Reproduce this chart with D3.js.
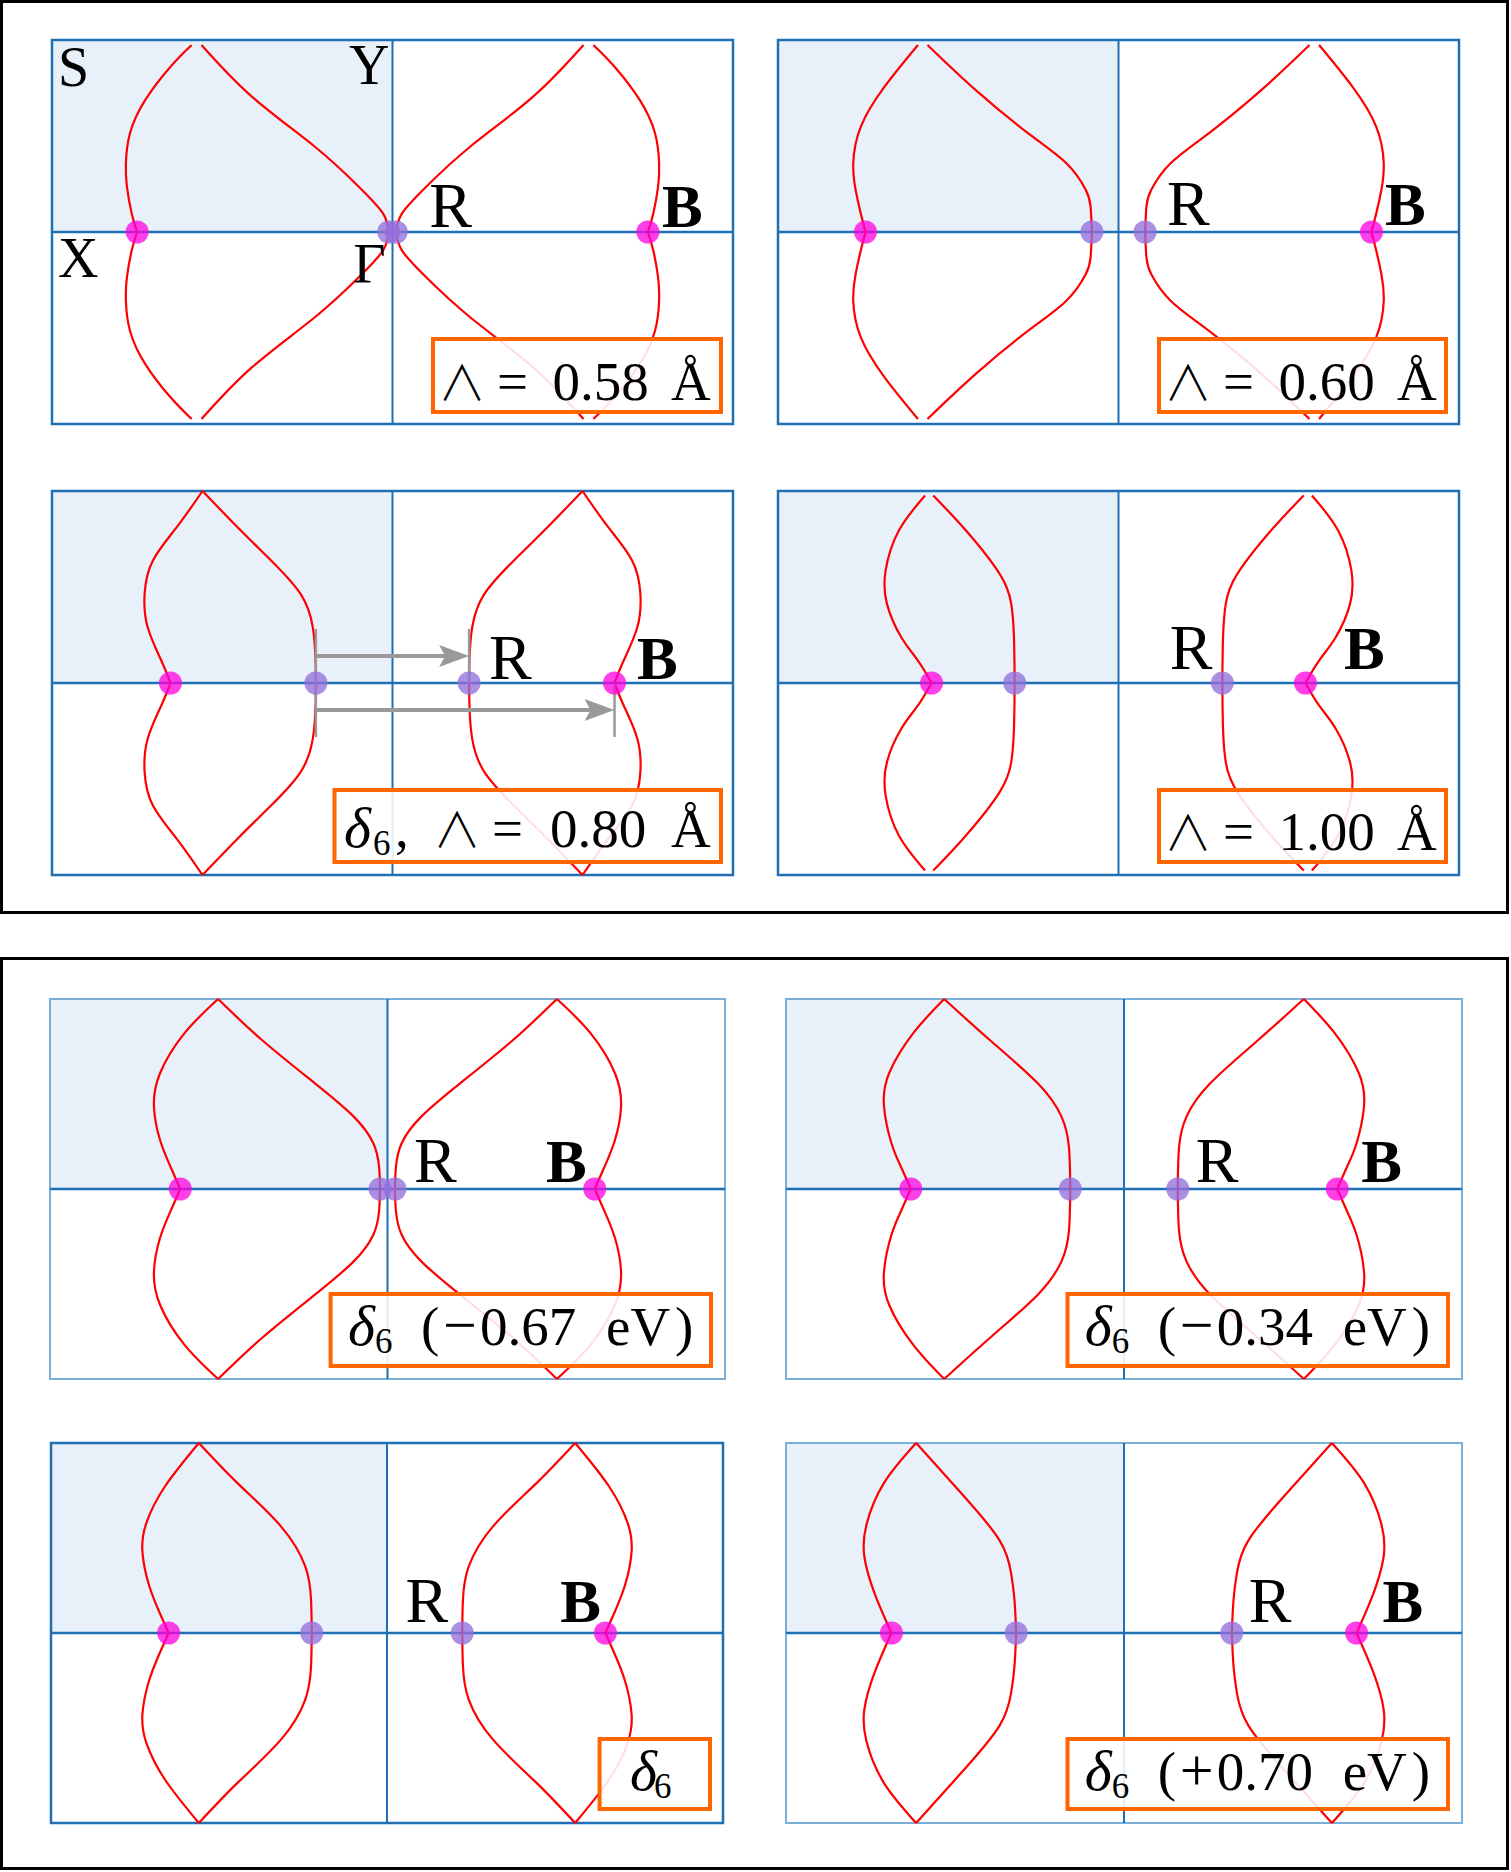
<!DOCTYPE html>
<html>
<head>
<meta charset="utf-8">
<script src="https://cdn.jsdelivr.net/npm/d3@7/dist/d3.min.js"></script>
<style>
  body { margin: 0; background: #fff; }
  svg { display: block; }
</style>
</head>
<body>
<script>
//--------------------------------- Data
// Top-left quarter of each contour, as (kx, ky): kx = -1 at X, 0 at Gamma; ky = 1 at Y, 0 at Gamma.
// "outer" ends on the magenta point, "inner" ends on the purple point.
var outer058 = [[-0.590,0.974],[-0.652,0.861],[-0.726,0.688],[-0.771,0.514],[-0.783,0.358],[-0.780,0.236],[-0.766,0.097],[-0.750,0]];
var inner058 = [[-0.561,0.974],[-0.413,0.705],[-0.228,0.444],[-0.099,0.236],[-0.028,0.097],[-0.011,0]];

var outer060 = [[-0.589,0.974],[-0.687,0.757],[-0.757,0.548],[-0.779,0.358],[-0.772,0.219],[-0.757,0.097],[-0.743,0]];
var inner060 = [[-0.561,0.974],[-0.420,0.740],[-0.265,0.514],[-0.153,0.358],[-0.096,0.219],[-0.082,0.132],[-0.078,0]];

var outer080 = [[-0.558,1],[-0.633,0.813],[-0.704,0.637],[-0.728,0.464],[-0.719,0.290],[-0.679,0.117],[-0.652,0]];
var inner080 = [[-0.558,1],[-0.455,0.811],[-0.356,0.637],[-0.270,0.464],[-0.234,0.290],[-0.226,0.117],[-0.225,0]];

var outer100 = [[-0.568,0.977],[-0.645,0.794],[-0.684,0.585],[-0.680,0.412],[-0.638,0.238],[-0.589,0.117],[-0.549,0]];
var inner100 = [[-0.544,0.977],[-0.448,0.794],[-0.349,0.568],[-0.315,0.412],[-0.307,0.238],[-0.305,0]];

var outerM067 = [[-0.502,1],[-0.602,0.819],[-0.674,0.609],[-0.692,0.433],[-0.674,0.258],[-0.643,0.117],[-0.614,0]];
var innerM067 = [[-0.502,1],[-0.372,0.784],[-0.215,0.556],[-0.100,0.381],[-0.042,0.241],[-0.025,0.117],[-0.022,0]];

var outerM034 = [[-0.532,1],[-0.624,0.819],[-0.695,0.609],[-0.710,0.433],[-0.688,0.241],[-0.660,0.117],[-0.631,0]];
var innerM034 = [[-0.532,1],[-0.397,0.784],[-0.255,0.556],[-0.185,0.381],[-0.163,0.223],[-0.159,0]];

var outerD6 = [[-0.560,1],[-0.661,0.771],[-0.716,0.580],[-0.728,0.430],[-0.708,0.250],[-0.676,0.104],[-0.650,0]];
var innerD6 = [[-0.560,1],[-0.445,0.789],[-0.315,0.560],[-0.243,0.349],[-0.226,0.174],[-0.224,0]];

var outerP070 = [[-0.615,1],[-0.710,0.790],[-0.762,0.570],[-0.768,0.400],[-0.738,0.209],[-0.688,0]];
var innerP070 = [[-0.615,1],[-0.482,0.737],[-0.369,0.490],[-0.334,0.315],[-0.324,0.174],[-0.319,0]];

var lambdaValues = ["0.58", "0.60", "0.80", "1.00"];
var shiftSigns   = ["\u2212", "\u2212", "", "+"];
var shiftValues  = ["0.67", "0.34", "", "0.70"];
var cornerLabels = ["S", "Y", "X", "\u0393"];

//--------------------------------- Layout
var _colBlue = "#1f6fb4",
    _colBlueLight = "#7aafd8",
    _colShade = "#e8f1f9",
    _colRed = "#ff0000",
    _colMag = "#ff00e0",
    _colPur = "#9370db",
    _colOrange = "#ff6600",
    _colGray = "#999999",
    _font = "'Liberation Serif', 'DejaVu Serif', serif";

// tag token layouts: [text, x offset from the start of the tag text, kind]
var tagLambda      = [["\u2227", -5.6, "wedge"], ["=", 53.5], ["{v}", 109], ["\u00c5", 227.5]];
var tagDeltaLambda = [["\u03b4", 0, "it"], ["6", 29, "sub"], [",", 51], ["\u2227", 89.1, "wedge"],
                      ["=", 148], ["{v}", 206], ["\u00c5", 327]];
var tagDeltaShift  = [["\u03b4", 0, "it"], ["6", 27, "sub"], ["(", 73], ["{s}", 95, "op"], ["{v}", 132],
                      ["eV", 258], [")", 327]];
var tagDelta       = [["\u03b4", 0, "it"], ["6", 24, "sub"]];

var panels = [
  { outer: outer058, inner: inner058, box: [52, 733, 40, 424], light: false,
    rL: { s: 1, dx: 33, dy: -5 }, bL: { s: 1, dx: 14, dy: -5 },
    tag: [433, 339, 288, 73, 443.5, 400], tokens: tagLambda, v: lambdaValues[0] },
  { outer: outer060, inner: inner060, box: [778, 1459, 40, 424], light: false,
    rL: { s: 1, dx: 22, dy: -7 }, bL: { s: 1, dx: 13.5, dy: -7 },
    tag: [1159, 339, 287, 73, 1169.5, 400], tokens: tagLambda, v: lambdaValues[1] },
  { outer: outer080, inner: inner080, box: [52, 733, 491, 875], light: false,
    rL: { s: 1, dx: 20, dy: -4.5 }, bL: { s: 1, dx: 22.5, dy: -4.5 },
    tag: [334.5, 790, 386.5, 72, 344, 847], tokens: tagDeltaLambda, v: lambdaValues[2], arrows: true },
  { outer: outer100, inner: inner100, box: [778, 1459, 491, 875], light: false,
    rL: { s: -1, dx: -10, dy: -14.5 }, bL: { s: 1, dx: 38.6, dy: -14.5 },
    tag: [1159, 790, 287, 72, 1169.5, 850], tokens: tagLambda, v: lambdaValues[3] },
  { outer: outerM067, inner: innerM067, box: [50, 725, 999, 1379], light: true,
    rL: { s: 1, dx: 19, dy: -7 }, bL: { s: -1, dx: -8, dy: -7 },
    tag: [330.6, 1294, 380.4, 72, 348, 1345], tokens: tagDeltaShift, v: shiftValues[0], sg: shiftSigns[0] },
  { outer: outerM034, inner: innerM034, box: [786, 1462, 999, 1379], light: true,
    rL: { s: 1, dx: 18, dy: -7 }, bL: { s: 1, dx: 24, dy: -7 },
    tag: [1067.5, 1294, 380.5, 72, 1084.7, 1345], tokens: tagDeltaShift, v: shiftValues[1], sg: shiftSigns[1] },
  { outer: outerD6, inner: innerD6, box: [51, 723, 1443, 1823], light: false,
    rL: { s: -1, dx: -14, dy: -11 }, bL: { s: -1, dx: -4.5, dy: -11 },
    tag: [599.6, 1739, 110.4, 70, 630, 1790], tokens: tagDelta },
  { outer: outerP070, inner: innerP070, box: [786, 1462, 1443, 1823], light: true,
    rL: { s: 1, dx: 17, dy: -11 }, bL: { s: 1, dx: 26, dy: -11 },
    tag: [1067.5, 1739, 380.5, 70, 1084.7, 1790], tokens: tagDeltaShift, v: shiftValues[3], sg: shiftSigns[3] }
];

var svg = d3.select("body").append("svg")
    .attr("width", 1511).attr("height", 1872);

//----- outer frames
[[1.5, 1.5, 1506, 911], [1.5, 958.5, 1506, 910]].forEach(function (f) {
  svg.append("rect").attr("x", f[0]).attr("y", f[1]).attr("width", f[2]).attr("height", f[3])
     .attr("fill", "none").attr("stroke", "#000").attr("stroke-width", 3);
});

var quarters = [[1, 1], [1, -1], [-1, 1], [-1, -1]];

panels.forEach(function (p, i) {
  var x = d3.scaleLinear().domain([-1, 1]).range([p.box[0], p.box[1]]),
      y = d3.scaleLinear().domain([-1, 1]).range([p.box[3], p.box[2]]),
      g = svg.append("g").attr("class", "panel-" + i);

  // shaded irreducible quadrant
  g.append("rect").attr("x", x(-1)).attr("y", y(1))
   .attr("width", x(0) - x(-1)).attr("height", y(0) - y(1))
   .attr("fill", _colShade);

  // zone frame and axes
  g.append("rect").attr("x", x(-1)).attr("y", y(1))
   .attr("width", x(1) - x(-1)).attr("height", y(-1) - y(1))
   .attr("fill", "none")
   .attr("stroke", p.light ? _colBlueLight : _colBlue)
   .attr("stroke-width", p.light ? 2 : 2.5);
  g.append("line").attr("x1", x(0)).attr("x2", x(0)).attr("y1", y(1)).attr("y2", y(-1))
   .attr("stroke", _colBlue).attr("stroke-width", 2);
  g.append("line").attr("x1", x(-1)).attr("x2", x(1)).attr("y1", y(0)).attr("y2", y(0))
   .attr("stroke", _colBlue).attr("stroke-width", 2.5);

  // contours: each quarter mirrored through the axes
  var line = d3.line()
      .x(function (d) { return x(d[0]); })
      .y(function (d) { return y(d[1]); })
      .curve(d3.curveNatural);
  [p.outer, p.inner].forEach(function (q) {
    quarters.forEach(function (s) {
      g.append("path")
       .attr("d", line(q.map(function (d) { return [d[0] * s[0], d[1] * s[1]]; })))
       .attr("fill", "none").attr("stroke", _colRed).attr("stroke-width", 2.2);
    });
  });

  var kMag = p.outer[p.outer.length - 1][0],
      kPur = p.inner[p.inner.length - 1][0];

  // arrows (third panel)
  if (p.arrows) {
    var cy = y(0), x0 = x(kPur), xR = x(-kPur), xB = x(-kMag);
    [[x0, cy - 54, cy + 54], [xR, cy - 54, cy], [xB, cy, cy + 54]].forEach(function (t) {
      g.append("line").attr("x1", t[0]).attr("x2", t[0]).attr("y1", t[1]).attr("y2", t[2])
       .attr("stroke", _colGray).attr("stroke-width", 2.5);
    });
    [[xR, cy - 27], [xB, cy + 27]].forEach(function (a) {
      g.append("line").attr("x1", x0).attr("x2", a[0] - 22).attr("y1", a[1]).attr("y2", a[1])
       .attr("stroke", _colGray).attr("stroke-width", 4);
      g.append("path")
       .attr("d", "M" + a[0] + "," + a[1] + "L" + (a[0] - 30) + "," + (a[1] - 11) +
                  "L" + (a[0] - 24) + "," + a[1] + "L" + (a[0] - 30) + "," + (a[1] + 11) + "Z")
       .attr("fill", _colGray);
    });
  }

  // crossing points on the Gamma line
  [[kMag, _colMag, 0.75], [-kMag, _colMag, 0.75], [kPur, _colPur, 0.78], [-kPur, _colPur, 0.78]]
    .forEach(function (d) {
      g.append("circle").attr("cx", x(d[0])).attr("cy", y(0)).attr("r", 11.5)
       .attr("fill", d[1]).attr("fill-opacity", d[2]);
    });

  // R and B labels
  [[p.rL, -kPur, "R", "normal", 64], [p.bL, -kMag, "B", "bold", 61]].forEach(function (l) {
    g.append("text").attr("x", x(l[1]) + l[0].dx).attr("y", y(0) + l[0].dy)
     .attr("text-anchor", l[0].s > 0 ? "start" : "end")
     .attr("font-family", _font).attr("font-size", l[4]).attr("font-weight", l[3])
     .text(l[2]);
  });

  // high-symmetry points (first panel only)
  if (i === 0) {
    [[x(-1) + 6, y(1) + 46, "start", 0], [x(0) - 3, y(1) + 44, "end", 1],
     [x(-1) + 6, y(0) + 45, "start", 2], [x(0) - 7, y(0) + 51, "end", 3]].forEach(function (c) {
      g.append("text").attr("x", c[0]).attr("y", c[1]).attr("text-anchor", c[2])
       .attr("font-family", _font).attr("font-size", 56).text(cornerLabels[c[3]]);
    });
  }

  // orange tag
  var t = p.tag;
  g.append("rect").attr("x", t[0]).attr("y", t[1]).attr("width", t[2]).attr("height", t[3])
   .attr("fill", "#fff").attr("fill-opacity", 0.88)
   .attr("stroke", _colOrange).attr("stroke-width", 4);

  var txt = g.append("text").attr("font-family", _font).attr("font-size", 55).attr("fill", "#000");
  p.tokens.forEach(function (tk) {
    var s = tk[0].replace("{v}", p.v || "").replace("{s}", p.sg || "");
    var ts = txt.append("tspan").attr("x", t[4] + tk[1]).attr("y", t[5]).text(s);
    if (tk[2] === "it") ts.attr("font-style", "italic").attr("font-size", 58);
    if (tk[2] === "sub") ts.attr("font-size", 35).attr("y", t[5] + 8);
    if (tk[2] === "op") ts.attr("font-size", 60);
    if (tk[2] === "wedge") {
      ts.attr("font-family", "'Noto Sans CJK JP', 'DejaVu Sans', sans-serif")
        .attr("font-size", 48).attr("font-weight", 300);
    }
  });
});
</script>
</body>
</html>
